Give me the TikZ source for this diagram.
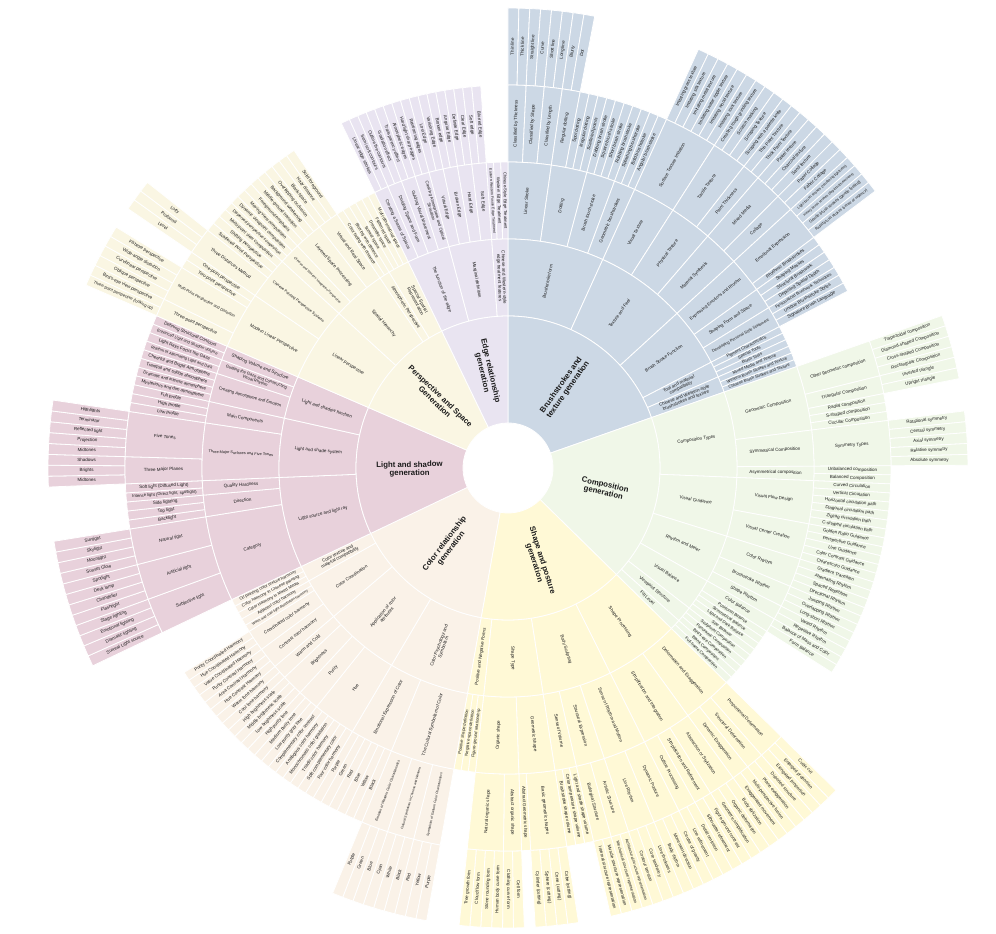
\documentclass[tikz,border=0pt]{standalone}
\usepackage{fontspec}
\setmainfont{Liberation Sans}
\usepackage{graphicx}
\definecolor{cBlue}{HTML}{CCD8E5}
\definecolor{cGreen}{HTML}{F0F7E8}
\definecolor{cYellow}{HTML}{FFF9D6}
\definecolor{cBeige}{HTML}{FAF2E8}
\definecolor{cPink}{HTML}{E8D1DB}
\definecolor{cCream}{HTML}{FAF6E3}
\definecolor{cLav}{HTML}{E9E4F1}
\definecolor{txt}{HTML}{1A1A1A}
\tikzset{sect/.style={fill=#1,draw=white,line width=0.8pt},lbl/.style={inner sep=0pt,text=txt}}
\makeatletter
\@namedef{rr0}{45}\@namedef{rr1}{152}\@namedef{rr2}{229}\@namedef{rr3}{306}\@namedef{rr4}{383}\@namedef{rr5}{460}
\makeatother
\newsavebox\fitbx
\newcommand\fitbox[4]{%
  \sbox\fitbx{#3\renewcommand\arraystretch{0.9}\begin{tabular}{@{}c@{}}#4\end{tabular}}%
  \pgfmathsetmacro\fbw{\the\wd\fitbx+0.01}%
  \pgfmathsetmacro\fbh{\the\ht\fitbx+\the\dp\fitbx+0.01}%
  \pgfmathsetmacro\fsc{min(1,#1/\fbw,#2/\fbh)}%
  \scalebox{\fsc}{\usebox\fitbx}}
\newcounter{nd}
\newcommand\cell[4]{%
  \edef\cRi{\csname rr\the\numexpr#1-1\relax\endcsname}%
  \edef\cRo{\csname rr#1\endcsname}%
  \pgfmathsetmacro\cAm{((#2)+(#3))/2}%
  \pgfmathsetmacro\cRm{(\cRi+\cRo)/2}%
  \pgfmathsetmacro\cRot{cos(\cAm)<0 ? \cAm+180 : \cAm}%
  \pgfmathsetmacro\cMw{(\cRo-\cRi)*0.84}%
  \pgfmathsetmacro\cMh{abs((#2)-(#3))*0.01745*\cRm*0.68}%
  \path[sect=\curcol] (#2:\cRi pt) arc[start angle=#2,end angle=#3,radius=\cRi pt] -- (#3:\cRo pt) arc[start angle=#3,end angle=#2,radius=\cRo pt] -- cycle;
  \stepcounter{nd}%
  \ifnum#1=1 \def\cFont{\fontsize{7.8}{9.2}\selectfont\bfseries}\else\def\cFont{\fontsize{4.5}{5.1}\selectfont}\fi
  \node[lbl,rotate=\cRot] (n\arabic{nd}) at (\cAm:\cRm pt) {\fitbox{\cMw}{\cMh}{\cFont}{#4}};
}
\gdef\curA{90}
\def\dA{1.3584906}
\newcommand\setcol[1]{\xdef\curcol{#1}}
\newcommand\leaf[2]{\pgfmathsetmacro\tmpE{\curA-\dA}\cell{#1}{\curA}{\tmpE}{#2}\xdef\curA{\tmpE}}
\newcommand\grp[1]{\expandafter\xdef\csname gs#1\endcsname{\curA}}
\newcommand\egrp[2]{\edef\tmpS{\csname gs#1\endcsname}\cell{#1}{\tmpS}{\curA}{#2}}
\begin{document}
\begin{tikzpicture}
\useasboundingbox (-508pt,-466pt) rectangle (488pt,468pt);
% ================= Brushstrokes and texture generation
\setcol{cBlue}
\grp{1}
 \grp{2}
  \grp{3}
   \grp{4}\leaf{5}{Thin line}\leaf{5}{Thick line}\egrp{4}{Classified by Thickness}
   \grp{4}\leaf{5}{Straight line}\leaf{5}{Curve}\egrp{4}{Classified by Shape}
   \grp{4}\leaf{5}{Short line}\leaf{5}{Long line}\egrp{4}{Classified by Length}
  \egrp{3}{Linear Stroke}
  \grp{3}
   \grp{4}\leaf{5}{Blurry}\leaf{5}{Dot}\egrp{4}{Regular dotting}
   \leaf{4}{Spot dotting}\leaf{4}{Irregular dotting}\leaf{4}{Scattered points}
  \egrp{3}{Dotting}
  \grp{3}
   \leaf{4}{Dabbing brush stroke}\leaf{4}{Square brush stroke}\leaf{4}{Short brush stroke}\leaf{4}{Rubbing brushstroke}
  \egrp{3}{Brush touch stroke}
  \grp{3}
   \leaf{4}{Splashing brushstroke}\leaf{4}{Bold brushstroke}\leaf{4}{Angular brushstroke}
  \egrp{3}{Geometric brushstrokes}
 \egrp{2}{Brushstroke form}
 \grp{2}
  \grp{3}\grp{4}
   \leaf{5}{Imitating grass texture}\leaf{5}{Imitating silk texture}\leaf{5}{Imitating metal texture}\leaf{5}{Imitating water ripple texture}\leaf{5}{Imitating wood texture}\leaf{5}{Imitating rock texture}
  \egrp{4}{Surface Texture Imitation}\egrp{3}{Visual Texture}
  \grp{3}
   \grp{4}\leaf{5}{Creating rough grinding texture}\leaf{5}{Scratch marking}\leaf{5}{Scraping Texture}\leaf{5}{Scraping with a palette knife}\egrp{4}{Tactile Texture}
   \grp{4}\leaf{5}{Thin Paint Texture}\leaf{5}{Thick Paint Texture}\egrp{4}{Paint Thickness}
  \egrp{3}{Physical Texture}
  \grp{3}
   \grp{4}\leaf{5}{Pastel texture}\leaf{5}{Charcoal texture}\leaf{5}{Sand texture}\egrp{4}{Mixed Media}
   \grp{4}\leaf{5}{Paper Collage}\leaf{5}{Fabric Collage}\egrp{4}{Collage}
  \egrp{3}{Material Synthesis}
 \egrp{2}{Texture and Feel}
 \grp{2}
  \grp{3}
   \grp{4}\leaf{5}{Light brush strokes (rendering lightness)}\leaf{5}{Heavy brush strokes (depicting heaviness)}\leaf{5}{Gentle brush strokes (gentle feeling)}\leaf{5}{Rapid brush strokes (sense of urgency)}\egrp{4}{Emotional Expression}
   \leaf{4}{Rhythmic Brushstrokes}
  \egrp{3}{Expressing Emotions and Rhythm}
  \grp{3}\leaf{4}{Shaping Masses}\leaf{4}{Structural Brushwork}\leaf{4}{Depicting Spatial Depth}\egrp{3}{Shaping Form and Space}
  \grp{3}\leaf{4}{Personalized Brushwork Techniques}\leaf{4}{Unique Brushstroke Styles}\leaf{4}{Signature Brush Language}\egrp{3}{Developing Personal Style Statement}
 \egrp{2}{Brush Stroke Function}
 \grp{2}\leaf{3}{Pigment Characteristics}\leaf{3}{Special Tools}\leaf{3}{Brush Tools}\egrp{2}{Tool and material\\compatibility}
 \grp{2}\leaf{3}{Mixed Media and Texture}\leaf{3}{Western Brush Strokes and Texture}\leaf{3}{Chinese Brush Strokes and Texture}\egrp{2}{Chinese and Western-style\\brushstrokes and texture}
\egrp{1}{Brushstrokes and\\texture generation}
% ================= Composition generation
\setcol{cGreen}
\grp{1}
 \grp{2}
  \grp{3}
   \grp{4}\leaf{5}{Trapezoidal composition}\leaf{5}{Diamond-shaped Composition}\leaf{5}{Cross-shaped Composition}\leaf{5}{Rectangular Composition}\egrp{4}{Other geometric composition}
   \grp{4}\leaf{5}{Inverted triangle}\leaf{5}{Upright triangle}\egrp{4}{Triangular Composition}
   \leaf{4}{Radial composition}\leaf{4}{S-shaped composition}\leaf{4}{Circular Composition}
  \egrp{3}{Geometric Composition}
  \grp{3}\grp{4}\leaf{5}{Rotational symmetry}\leaf{5}{Central symmetry}\leaf{5}{Axial symmetry}\leaf{5}{Relative symmetry}\leaf{5}{Absolute symmetry}\egrp{4}{Symmetry Types}\egrp{3}{Symmetrical Composition}
  \grp{3}\leaf{4}{Unbalanced composition}\leaf{4}{Balanced Composition}\egrp{3}{Asymmetrical composition}
 \egrp{2}{Composition Types}
 \grp{2}
  \grp{3}\leaf{4}{Curved Circulation}\leaf{4}{Vertical Circulation}\leaf{4}{Horizontal circulation path}\leaf{4}{Diagonal circulation path}\leaf{4}{Zigzag circulation path}\leaf{4}{C-shaped circulation path}\egrp{3}{Visual Flow Design}
  \grp{3}\leaf{4}{Golden Ratio Guidance}\leaf{4}{Perspective Guidance}\leaf{4}{Line Guidance}\leaf{4}{Color Contrast Guidance}\leaf{4}{Chiaroscuro Guidance}\egrp{3}{Visual Center Creation}
 \egrp{2}{Visual Guidance}
 \grp{2}
  \grp{3}\leaf{4}{Gradient Transition}\leaf{4}{Alternating Rhythm}\leaf{4}{Spaced Repetition}\leaf{4}{Directional Rhythm}\egrp{3}{Color Rhythm}
  \grp{3}\leaf{4}{Jumping Rhythm}\leaf{4}{Overlapping Rhythm}\leaf{4}{Long-short Rhythm}\egrp{3}{Brushstroke Rhythm}
  \grp{3}\leaf{4}{Varied Rhythm}\leaf{4}{Repetitive Rhythm}\egrp{3}{Shape Rhythm}
 \egrp{2}{Rhythm and Meter}
 \grp{2}
  \grp{3}\leaf{4}{Balance of Mass and Color}\leaf{4}{Form Balance}\egrp{3}{Color Balance}
  \leaf{3}{Positional Balance}\leaf{3}{Symmetrical Balance}\leaf{3}{Light and Dark Balance}\leaf{3}{Size Balance}
 \egrp{2}{Visual Balance}
 \grp{2}\leaf{3}{Sculptural Composition}\leaf{3}{Panoramic Composition}\leaf{3}{Bird's-eye Composition}\egrp{2}{Viewpoint Structure}
 \grp{2}\leaf{3}{Blank Composition}\leaf{3}{Full-frame Composition}\egrp{2}{Fill Level}
\egrp{1}{Composition\\generation}
% ================= Shape and posture generation
\setcol{cYellow}
\grp{1}
 \grp{2}
  \grp{3}
   \grp{4}\leaf{5}{Cubic cut}\leaf{5}{Enlarged proportion}\leaf{5}{Elongated proportion}\egrp{4}{Proportional Deformation}
   \grp{4}\leaf{5}{Distorted structure}\leaf{5}{Plane exaggeration}\egrp{4}{Structural Deformation}
   \grp{4}\leaf{5}{Multi-perspective fusion}\leaf{5}{Exaggerated movement}\egrp{4}{Dynamic Exaggeration}
  \egrp{3}{Deformation and Exaggeration}
  \grp{3}
   \grp{4}\leaf{5}{Body stylization}\leaf{5}{Organic deformation}\leaf{5}{Geometric simplification}\egrp{4}{Abstraction or Stylization}
   \grp{4}\leaf{5}{Figure-ground contrast}\leaf{5}{Silhouette refinement}\egrp{4}{Simplification and Refinement}
   \grp{4}\leaf{5}{Detail omission}\leaf{5}{Line refinement}\egrp{4}{Outline Processing}
  \egrp{3}{Simplification and Integration}
 \egrp{2}{Shape Processing}
 \grp{2}
  \grp{3}
   \grp{4}\leaf{5}{Center of gravity}\leaf{5}{Movement direction}\leaf{5}{Body rhythm}\egrp{4}{Dynamic Posture}
   \grp{4}\leaf{5}{Line thickness}\leaf{5}{Core tendency}\leaf{5}{Contour tension}\egrp{4}{Line Rhythm}
  \egrp{3}{Sense of Rhythm and Motion}
  \grp{3}
   \grp{4}\leaf{5}{Architectural structure representation}\leaf{5}{Mechanical structure representation}\egrp{4}{Artistic Structure}
   \grp{4}\leaf{5}{Muscle structure representation}\leaf{5}{Internal structure representation}\egrp{4}{Biological Structure}
  \egrp{3}{Structural Expression}
  \grp{3}\leaf{4}{Light and shade shape volume}\leaf{4}{Color temperature shape volume}\leaf{4}{Brushstroke shape volume}\egrp{3}{Sense of Volume}
 \egrp{2}{Body Sculpting}
 \grp{2}
  \grp{3}
   \grp{4}\leaf{5}{Cube (cutting)}\leaf{5}{Cone (cutting)}\leaf{5}{Sphere (cutting)}\leaf{5}{Cylinder (cutting)}\egrp{4}{Basic geometric shapes}
   \leaf{4}{Abstract Geometric shape}
  \egrp{3}{Geometric Shape}
  \grp{3}
   \grp{4}\leaf{5}{Cell form}\leaf{5}{Clothing curve form}\egrp{4}{Abstract organic shape}
   \grp{4}\leaf{5}{Human body curve form}\leaf{5}{Stone rounding form}\leaf{5}{Cloud flow form}\leaf{5}{Tree growth form}\egrp{4}{Natural organic shape}
  \egrp{3}{Organic shape}
 \egrp{2}{Shape Type}
 \grp{2}\leaf{3}{Figure-ground relationship}\leaf{3}{Negative space definition}\leaf{3}{Positive shape definition}\egrp{2}{Positive and Negative Forms}
\egrp{1}{Shape and posture\\generation}
% ================= Color relationship generation
\setcol{cBeige}
\grp{1}
 \grp{2}
  \grp{3}
   \grp{4}\leaf{5}{Purple}\leaf{5}{Yellow}\leaf{5}{Red}\egrp{4}{Symbolism of Eastern Color Characteristics}
   \grp{4}\leaf{5}{Black}\leaf{5}{White}\leaf{5}{Cyan}\egrp{4}{Cultural Symbolism in Chinese and Western}
   \grp{4}\leaf{5}{Blue}\leaf{5}{Green}\leaf{5}{Purple}\egrp{4}{Emotion of Western Color Characteristics}
  \egrp{3}{The Cultural Symbolism of Color}
  \grp{3}\leaf{4}{Black}\leaf{4}{Yellow}\leaf{4}{Blue}\leaf{4}{Red}\leaf{4}{Green}\leaf{4}{Purple}\egrp{3}{Emotional Expression of Color}
 \egrp{2}{Color Psychology and\\Symbolism}
 \grp{2}
  \grp{3}\leaf{4}{Four-color harmony}\leaf{4}{Split complementary color}\leaf{4}{Triadic color harmony}\leaf{4}{Monochromatic color gradation}\leaf{4}{Analogous color harmony}\leaf{4}{Complementary color contrast}\egrp{3}{Hue}
  \grp{3}\leaf{4}{Low purity gray tone}\leaf{4}{Medium purity tone}\leaf{4}{High purity tone}\egrp{3}{Purity}
  \grp{3}\leaf{4}{Low brightness scale}\leaf{4}{Middle brightness scale}\leaf{4}{High brightness scale}\egrp{3}{Brightness}
  \grp{3}\leaf{4}{Cool tone harmony}\leaf{4}{Warm tone harmony}\egrp{3}{Warm and Cold}
 \egrp{2}{Application of color\\attributes}
 \grp{2}
  \grp{3}\leaf{4}{Hue Contrast Harmony}\leaf{4}{Area Contrast Harmony}\leaf{4}{Purity Contrast Harmony}\egrp{3}{Contrast color harmony}
  \grp{3}\leaf{4}{Value Coordinated Harmony}\leaf{4}{Hue Coordinated Harmony}\leaf{4}{Purity Coordinated Harmony}\egrp{3}{Coordinated color harmony}
  \leaf{3}{Warm and cool light distribution harmony}\leaf{3}{Adjacent color harmony}
 \egrp{2}{Color Coordination}
 \grp{2}\leaf{3}{Color Harmony in Mixed Media}\leaf{3}{Color harmony in Chinese painting}\leaf{3}{Oil painting color texture harmony}\egrp{2}{Color texture and\\material compatibility}
\egrp{1}{Color relationship\\generation}
% ================= Light and shadow generation
\setcol{cPink}
\grp{1}
 \grp{2}
  \grp{3}
   \grp{4}\leaf{5}{Surreal Light source}\leaf{5}{Dramatic lighting}\leaf{5}{Emotional lighting}\leaf{5}{Stage lighting}\egrp{4}{Subjective light}
   \grp{4}\leaf{5}{Flashlight}\leaf{5}{Chandelier}\leaf{5}{Desk lamp}\leaf{5}{Spotlight}\egrp{4}{Artificial light}
   \grp{4}\leaf{5}{Sunset Glow}\leaf{5}{Moonlight}\leaf{5}{Skylight}\leaf{5}{Sunlight}\egrp{4}{Natural light}
  \egrp{3}{Category}
  \grp{3}\leaf{4}{Backlight}\leaf{4}{Top light}\leaf{4}{Side lighting}\egrp{3}{Direction}
  \grp{3}\leaf{4}{Intense light (Direct light, spotlight)}\leaf{4}{Soft light (Diffused Light)}\egrp{3}{Quality Hardness}
 \egrp{2}{Light source and light ray}
 \grp{2}
  \grp{3}
   \grp{4}\leaf{5}{Midtones}\leaf{5}{Brights}\leaf{5}{Shadows}\egrp{4}{Three Major Planes}
   \grp{4}\leaf{5}{Midtones}\leaf{5}{Projection}\leaf{5}{Reflected light}\leaf{5}{Terminator}\leaf{5}{Highlights}\egrp{4}{Five Tones}
  \egrp{3}{Three Major Surfaces and Five Tones}
  \grp{3}\leaf{4}{Low profile}\leaf{4}{High profile}\leaf{4}{Full profile}\egrp{3}{Main Components}
 \egrp{2}{Light and shade system}
 \grp{2}
  \grp{3}\leaf{4}{Mysterious and dim atmosphere}\leaf{4}{Dramatic and intense atmosphere}\leaf{4}{Tranquil and subtle atmosphere}\leaf{4}{Cheerful and Bright Atmosphere}\egrp{3}{Creating Atmosphere and Emotion}
  \grp{3}\leaf{4}{Rhythm of Alternating Light and Dark}\leaf{4}{Light Rays Focus the Gaze}\egrp{3}{Guiding the Gaze and Constructing\\Visual Rhythm}
  \grp{3}\leaf{4}{Enhanced Light and Shadow Volume}\leaf{4}{Defining Structural Contours}\egrp{3}{Shaping Volume and Structure}
 \egrp{2}{Light and shadow function}
\egrp{1}{Light and shadow\\generation}
% ================= Perspective and Space Generation
\setcol{cCream}
\grp{1}
 \grp{2}
  \grp{3}
   \grp{4}\leaf{5}{Three-point perspective (looking up)}\leaf{5}{Bird's-eye view perspective}\egrp{4}{Three-point perspective}
   \grp{4}\leaf{5}{Oblique perspective}\leaf{5}{Curvilinear perspective}\leaf{5}{Wide-angle distortion}\leaf{5}{Fisheye perspective}\egrp{4}{Multi-Point Perspective and Distortion}
   \leaf{4}{Two-point perspective}\leaf{4}{One-point perspective}
  \egrp{3}{Modern Linear Perspective}
  \grp{3}
   \grp{4}\leaf{5}{Level}\leaf{5}{Profound}\leaf{5}{Lofty}\egrp{4}{Three Distances Method}
   \leaf{4}{Scattered Point Perspective}\leaf{4}{Shifting Perspective}\leaf{4}{Multi-point view composition}
  \egrp{3}{Chinese Painting Perspective Systems}
 \egrp{2}{Linear perspective}
 \grp{2}
  \grp{3}\leaf{4}{Dispersed perspective composition}\leaf{4}{Dynamic viewpoint composition}\leaf{4}{Moving-view composition}\egrp{3}{Chinese and Western Integration Perspective}
  \grp{3}\leaf{4}{Foreground emphasis}\leaf{4}{Middle-ground transition}\leaf{4}{Background weakening}\leaf{4}{Overlapping occlusion}\egrp{3}{Layered Space Processing}
  \grp{3}\leaf{4}{Blank space}\leaf{4}{Hazy distance}\leaf{4}{Solid foreground}\egrp{3}{Virtual and Real Space}
 \egrp{2}{Spatial Hierarchy}
 \grp{2}\leaf{3}{Color fading with distance}\leaf{3}{Blurring with distance}\egrp{2}{Atmospheric Perspective}
 \grp{2}\leaf{3}{Surreal space}\leaf{3}{Dreamlike space}\leaf{3}{Flattened space}\leaf{3}{Multi-dimensional space}\egrp{2}{Special Spatial\\Representation}
\egrp{1}{Perspective and Space\\Generation}
% ================= Edge relationship generation
\setcol{cLav}
\grp{1}
 \grp{2}
  \grp{3}\leaf{4}{Linear edge strokes}\leaf{4}{Semi-soft contours}\egrp{3}{Creating a Sense of Space}
  \grp{3}\leaf{4}{Outline the contours}\leaf{4}{Gradation effect}\egrp{3}{Dividing Space and Form}
  \grp{3}\leaf{4}{Transparency effect}\leaf{4}{Atmospheric edges}\egrp{3}{Guiding Visual Movement}
  \grp{3}\leaf{4}{Hard light sharp edges}\leaf{4}{Reinforcing edges}\egrp{3}{Creating Atmosphere and Optical\\Sensation}
 \egrp{2}{The function of the edge}
 \grp{2}
  \grp{3}\leaf{4}{Lost Edge}\leaf{4}{Vanishing Edge}\egrp{3}{Virtual Edge}
  \grp{3}\leaf{4}{Broken edge}\leaf{4}{Angular Edge}\egrp{3}{Broken Edge}
  \grp{3}\leaf{4}{Definite Edge}\leaf{4}{Clear Edge}\egrp{3}{Hard Edge}
  \grp{3}\leaf{4}{Soft edge}\leaf{4}{Blurred Edge}\egrp{3}{Soft Edge}
 \egrp{2}{Marginal definition}
 \grp{2}\leaf{3}{Eastern-Western Fusion Edge Treatment}\leaf{3}{Western Edge Treatment}\leaf{3}{Chinese-Style Edge Treatment}\egrp{2}{Chinese and Western-style\\edge treatment features}
\egrp{1}{Edge relationship\\generation}
\end{tikzpicture}
\end{document}
